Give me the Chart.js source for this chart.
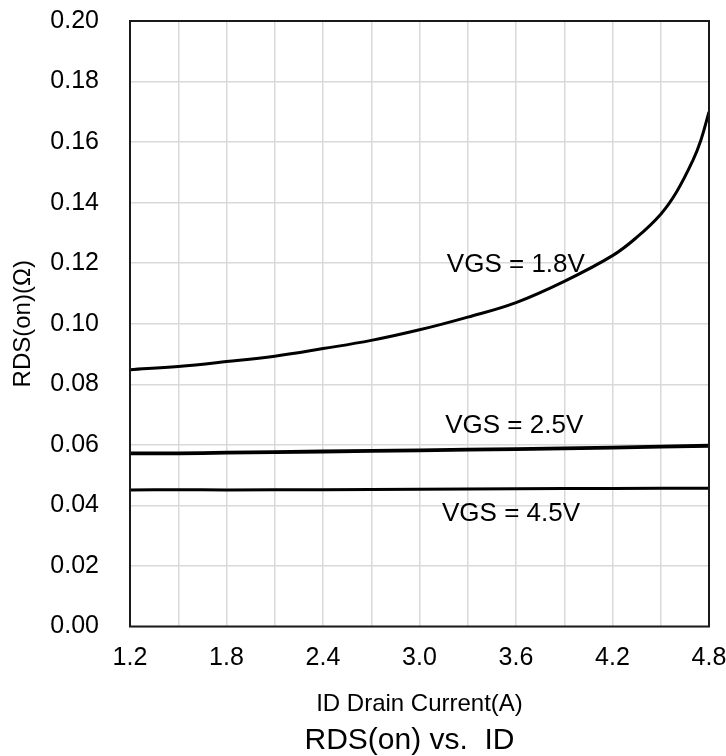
<!DOCTYPE html>
<html>
<head>
<meta charset="utf-8">
<title>RDS(on) vs. ID</title>
<script src="https://cdn.jsdelivr.net/npm/chart.js@4"></script>
<style>
  html, body { margin: 0; padding: 0; background: #ffffff; }
  #wrap { width: 726px; height: 756px; }
</style>
</head>
<body>
<div id="wrap"><canvas id="rdsChart"></canvas></div>
<script>
// Drain current (A) and RDS(on) (ohm)
const vgs18Current = [1.2, 1.5, 1.8, 2.1, 2.4, 2.7, 3.0, 3.3, 3.6, 3.9, 4.2, 4.35, 4.5, 4.6, 4.7, 4.75, 4.8];
const vgs18Rds = [0.0848, 0.0859, 0.0875, 0.0893, 0.0918, 0.0945, 0.0980, 0.1022, 0.1070, 0.1140, 0.1225, 0.1285, 0.1362, 0.1437, 0.1540, 0.1607, 0.1700];

const vgs25Current = [1.2, 1.5, 1.8, 2.4, 3.0, 3.6, 4.2, 4.8];
const vgs25Rds = [0.0572, 0.0572, 0.0574, 0.0578, 0.0582, 0.0586, 0.0591, 0.0597];

const vgs45Current = [1.2, 1.5, 1.8, 2.4, 3.0, 3.6, 4.2, 4.8];
const vgs45Rds = [0.0451, 0.0452, 0.0451, 0.0452, 0.0453, 0.0455, 0.0456, 0.0457];

// curve labels, placed in data units
const curveLabels = ['VGS = 1.8V', 'VGS = 2.5V', 'VGS = 4.5V'];
const curveLabelX = [3.17, 3.16, 3.14];
const curveLabelY = [0.1195, 0.0664, 0.0372];

const chartTitle = 'RDS(on) vs.  ID';

const FONT = "'Liberation Sans', Arial, sans-serif";

function toPoints(xs, ys) {
    return xs.map((x, i) => ({ x: x, y: ys[i] }));
}

// frame round the plot, curve labels and the title under the axis
const framePlugin = {
    id: 'frame',
    afterDraw(chart) {
        const ctx = chart.ctx;
        const a = chart.chartArea;
        ctx.save();
        ctx.strokeStyle = '#1a1a1a';
        ctx.lineWidth = 2;
        ctx.strokeRect(a.left, a.top, a.right - a.left, a.bottom - a.top);

        ctx.fillStyle = '#000000';
        ctx.font = '26px ' + FONT;
        ctx.textAlign = 'left';
        ctx.textBaseline = 'middle';
        for (let i = 0; i < curveLabels.length; i++) {
            const px = chart.scales.x.getPixelForValue(curveLabelX[i]);
            const py = chart.scales.y.getPixelForValue(curveLabelY[i]);
            ctx.fillText(curveLabels[i], px, py);
        }

        // chart title, centred a little left of the plot centre
        ctx.font = '30px ' + FONT;
        ctx.textAlign = 'center';
        ctx.fillText(chartTitle, (a.left + a.right) / 2 - 10, chart.height - 15);
        ctx.restore();
    }
};

function lineSet(label, xs, ys, width) {
    return {
        label: label,
        data: toPoints(xs, ys),
        borderColor: '#000000',
        borderWidth: width,
        pointRadius: 0,
        tension: 0.4,
        fill: false
    };
}

document.addEventListener('DOMContentLoaded', function() {
    const ctx = document.getElementById('rdsChart').getContext('2d');

    new Chart(ctx, {
        type: 'line',
        data: {
            datasets: [
                lineSet('VGS = 1.8V', vgs18Current, vgs18Rds, 3),
                lineSet('VGS = 2.5V', vgs25Current, vgs25Rds, 3.8),
                lineSet('VGS = 4.5V', vgs45Current, vgs45Rds, 3)
            ]
        },
        options: {
            responsive: true,
            maintainAspectRatio: false,
            animation: false,
            layout: { padding: { top: 21, left: 0, right: 0, bottom: 0 } },
            plugins: {
                legend: { display: false },
                tooltip: { enabled: false },
                title: { display: false }
            },
            scales: {
                x: {
                    type: 'linear',
                    min: 1.2,
                    max: 4.8,
                    border: { display: false },
                    grid: { color: '#d9d9d9', lineWidth: 1.5, drawTicks: false },
                    ticks: {
                        stepSize: 0.3,
                        autoSkip: false,
                        maxRotation: 0,
                        padding: 17,
                        color: '#000000',
                        font: { family: FONT, size: 25 },
                        callback: function(v) {
                            return Math.round(v * 10) % 6 === 0 ? v.toFixed(1) : '';
                        }
                    },
                    title: {
                        display: true,
                        text: 'ID Drain Current(A)',
                        color: '#000000',
                        font: { family: FONT, size: 24, lineHeight: 1 },
                        padding: { top: 0, bottom: 40 }
                    },
                    afterFit: function(scale) {
                        scale.height = 129.5;
                        scale.paddingRight = 17;
                    }
                },
                y: {
                    min: 0,
                    max: 0.2,
                    border: { display: false },
                    grid: { color: '#d9d9d9', lineWidth: 1.5, drawTicks: false },
                    ticks: {
                        stepSize: 0.02,
                        padding: 31,
                        color: '#000000',
                        font: { family: FONT, size: 25 },
                        callback: function(v) { return v.toFixed(2); }
                    },
                    title: {
                        display: true,
                        text: 'RDS(on)(Ω)',
                        color: '#000000',
                        font: { family: FONT, size: 24, lineHeight: 1 },
                        padding: { top: 11, bottom: 0 }
                    },
                    afterFit: function(scale) {
                        scale.width = 130;
                        scale.paddingTop = 0;
                    }
                }
            }
        },
        plugins: [framePlugin]
    });
});
</script>
</body>
</html>
